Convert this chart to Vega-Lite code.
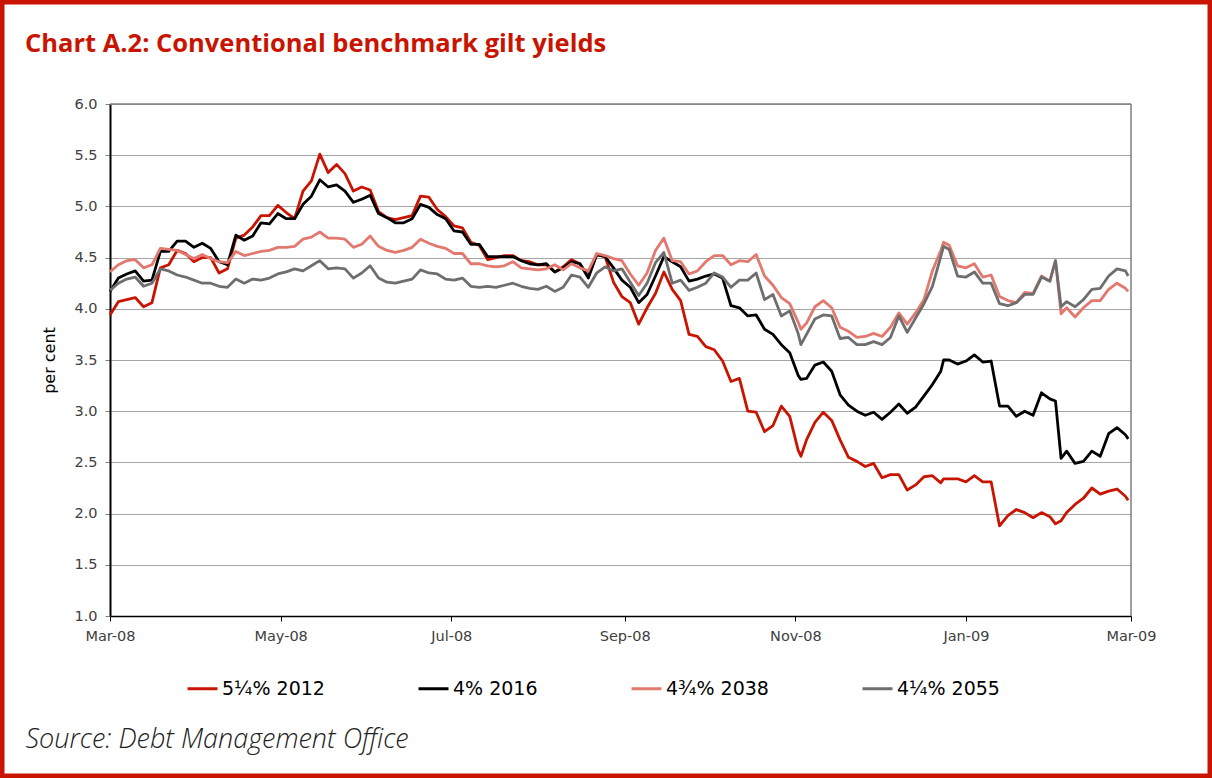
{
  "$schema": "https://vega.github.io/schema/vega-lite/v6.json",
  "width": 1212,
  "height": 778,
  "autosize": "none",
  "padding": 0,
  "background": "#ffffff",
  "title": {
    "text": "Chart A.2: Conventional benchmark gilt yields",
    "anchor": "start",
    "frame": "group",
    "orient": "top",
    "offset": 0,
    "dx": 25,
    "dy": 77,
    "baseline": "alphabetic",
    "font": "Open Sans",
    "fontSize": 25.5,
    "fontWeight": "bold",
    "color": "#C81400"
  },
  "layer": [
    {
      "data": {
        "values": [
          {"d": "2008-03-01", "d2": "2009-03-01", "yield": 6, "y2": 6},
          {"d": "2009-03-01", "d2": "2009-03-01", "yield": 1, "y2": 6}
        ]
      },
      "mark": {"type": "rule", "color": "#7F7F7F", "strokeWidth": 1.5},
      "encoding": {
        "x": {"field": "d", "type": "temporal"},
        "x2": {"field": "d2"},
        "y": {"field": "yield", "type": "quantitative"},
        "y2": {"field": "y2"}
      }
    },
    {
      "data": {
        "values": [
          {"d": "2008-03-01", "5¼% 2012": 3.94, "4% 2016": 4.17, "4¾% 2038": 4.36, "4¼% 2055": 4.18},
          {"d": "2008-03-04", "5¼% 2012": 4.07, "4% 2016": 4.30, "4¾% 2038": 4.43, "4¼% 2055": 4.25},
          {"d": "2008-03-07", "5¼% 2012": 4.09, "4% 2016": 4.34, "4¾% 2038": 4.47, "4¼% 2055": 4.29},
          {"d": "2008-03-10", "5¼% 2012": 4.11, "4% 2016": 4.37, "4¾% 2038": 4.48, "4¼% 2055": 4.31},
          {"d": "2008-03-13", "5¼% 2012": 4.02, "4% 2016": 4.27, "4¾% 2038": 4.40, "4¼% 2055": 4.22},
          {"d": "2008-03-16", "5¼% 2012": 4.06, "4% 2016": 4.28, "4¾% 2038": 4.43, "4¼% 2055": 4.25},
          {"d": "2008-03-19", "5¼% 2012": 4.40, "4% 2016": 4.56, "4¾% 2038": 4.59, "4¼% 2055": 4.39},
          {"d": "2008-03-22", "5¼% 2012": 4.43, "4% 2016": 4.56, "4¾% 2038": 4.58, "4¼% 2055": 4.37},
          {"d": "2008-03-25", "5¼% 2012": 4.57, "4% 2016": 4.66, "4¾% 2038": 4.57, "4¼% 2055": 4.33},
          {"d": "2008-03-28", "5¼% 2012": 4.54, "4% 2016": 4.66, "4¾% 2038": 4.53, "4¼% 2055": 4.31},
          {"d": "2008-03-31", "5¼% 2012": 4.46, "4% 2016": 4.60, "4¾% 2038": 4.49, "4¼% 2055": 4.28},
          {"d": "2008-04-03", "5¼% 2012": 4.50, "4% 2016": 4.64, "4¾% 2038": 4.53, "4¼% 2055": 4.25},
          {"d": "2008-04-06", "5¼% 2012": 4.50, "4% 2016": 4.59, "4¾% 2038": 4.49, "4¼% 2055": 4.25},
          {"d": "2008-04-09", "5¼% 2012": 4.35, "4% 2016": 4.46, "4¾% 2038": 4.46, "4¼% 2055": 4.22},
          {"d": "2008-04-12", "5¼% 2012": 4.39, "4% 2016": 4.43, "4¾% 2038": 4.45, "4¼% 2055": 4.21},
          {"d": "2008-04-15", "5¼% 2012": 4.69, "4% 2016": 4.72, "4¾% 2038": 4.56, "4¼% 2055": 4.29},
          {"d": "2008-04-18", "5¼% 2012": 4.72, "4% 2016": 4.67, "4¾% 2038": 4.52, "4¼% 2055": 4.25},
          {"d": "2008-04-21", "5¼% 2012": 4.80, "4% 2016": 4.71, "4¾% 2038": 4.54, "4¼% 2055": 4.29},
          {"d": "2008-04-24", "5¼% 2012": 4.91, "4% 2016": 4.84, "4¾% 2038": 4.56, "4¼% 2055": 4.28},
          {"d": "2008-04-27", "5¼% 2012": 4.91, "4% 2016": 4.83, "4¾% 2038": 4.57, "4¼% 2055": 4.30},
          {"d": "2008-04-30", "5¼% 2012": 5.01, "4% 2016": 4.93, "4¾% 2038": 4.60, "4¼% 2055": 4.34},
          {"d": "2008-05-03", "5¼% 2012": 4.94, "4% 2016": 4.88, "4¾% 2038": 4.60, "4¼% 2055": 4.36},
          {"d": "2008-05-06", "5¼% 2012": 4.88, "4% 2016": 4.88, "4¾% 2038": 4.61, "4¼% 2055": 4.39},
          {"d": "2008-05-09", "5¼% 2012": 5.15, "4% 2016": 5.02, "4¾% 2038": 4.68, "4¼% 2055": 4.37},
          {"d": "2008-05-12", "5¼% 2012": 5.25, "4% 2016": 5.10, "4¾% 2038": 4.70, "4¼% 2055": 4.42},
          {"d": "2008-05-15", "5¼% 2012": 5.51, "4% 2016": 5.26, "4¾% 2038": 4.75, "4¼% 2055": 4.47},
          {"d": "2008-05-18", "5¼% 2012": 5.33, "4% 2016": 5.19, "4¾% 2038": 4.69, "4¼% 2055": 4.39},
          {"d": "2008-05-21", "5¼% 2012": 5.41, "4% 2016": 5.21, "4¾% 2038": 4.69, "4¼% 2055": 4.40},
          {"d": "2008-05-24", "5¼% 2012": 5.32, "4% 2016": 5.15, "4¾% 2038": 4.68, "4¼% 2055": 4.39},
          {"d": "2008-05-27", "5¼% 2012": 5.15, "4% 2016": 5.04, "4¾% 2038": 4.60, "4¼% 2055": 4.30},
          {"d": "2008-05-30", "5¼% 2012": 5.19, "4% 2016": 5.07, "4¾% 2038": 4.63, "4¼% 2055": 4.35},
          {"d": "2008-06-02", "5¼% 2012": 5.16, "4% 2016": 5.11, "4¾% 2038": 4.71, "4¼% 2055": 4.42},
          {"d": "2008-06-05", "5¼% 2012": 4.95, "4% 2016": 4.93, "4¾% 2038": 4.61, "4¼% 2055": 4.30},
          {"d": "2008-06-08", "5¼% 2012": 4.89, "4% 2016": 4.89, "4¾% 2038": 4.57, "4¼% 2055": 4.26},
          {"d": "2008-06-11", "5¼% 2012": 4.87, "4% 2016": 4.84, "4¾% 2038": 4.55, "4¼% 2055": 4.25},
          {"d": "2008-06-14", "5¼% 2012": 4.89, "4% 2016": 4.84, "4¾% 2038": 4.57, "4¼% 2055": 4.27},
          {"d": "2008-06-17", "5¼% 2012": 4.91, "4% 2016": 4.88, "4¾% 2038": 4.60, "4¼% 2055": 4.29},
          {"d": "2008-06-20", "5¼% 2012": 5.10, "4% 2016": 5.02, "4¾% 2038": 4.68, "4¼% 2055": 4.38},
          {"d": "2008-06-23", "5¼% 2012": 5.09, "4% 2016": 4.99, "4¾% 2038": 4.64, "4¼% 2055": 4.35},
          {"d": "2008-06-26", "5¼% 2012": 4.97, "4% 2016": 4.92, "4¾% 2038": 4.61, "4¼% 2055": 4.34},
          {"d": "2008-06-29", "5¼% 2012": 4.90, "4% 2016": 4.88, "4¾% 2038": 4.59, "4¼% 2055": 4.29},
          {"d": "2008-07-02", "5¼% 2012": 4.81, "4% 2016": 4.76, "4¾% 2038": 4.54, "4¼% 2055": 4.28},
          {"d": "2008-07-05", "5¼% 2012": 4.79, "4% 2016": 4.75, "4¾% 2038": 4.54, "4¼% 2055": 4.30},
          {"d": "2008-07-08", "5¼% 2012": 4.65, "4% 2016": 4.63, "4¾% 2038": 4.44, "4¼% 2055": 4.22},
          {"d": "2008-07-11", "5¼% 2012": 4.62, "4% 2016": 4.63, "4¾% 2038": 4.44, "4¼% 2055": 4.21},
          {"d": "2008-07-14", "5¼% 2012": 4.48, "4% 2016": 4.51, "4¾% 2038": 4.42, "4¼% 2055": 4.22},
          {"d": "2008-07-17", "5¼% 2012": 4.50, "4% 2016": 4.51, "4¾% 2038": 4.41, "4¼% 2055": 4.21},
          {"d": "2008-07-20", "5¼% 2012": 4.52, "4% 2016": 4.51, "4¾% 2038": 4.42, "4¼% 2055": 4.23},
          {"d": "2008-07-23", "5¼% 2012": 4.52, "4% 2016": 4.51, "4¾% 2038": 4.46, "4¼% 2055": 4.25},
          {"d": "2008-07-26", "5¼% 2012": 4.47, "4% 2016": 4.47, "4¾% 2038": 4.40, "4¼% 2055": 4.22},
          {"d": "2008-07-29", "5¼% 2012": 4.46, "4% 2016": 4.44, "4¾% 2038": 4.39, "4¼% 2055": 4.20},
          {"d": "2008-08-01", "5¼% 2012": 4.43, "4% 2016": 4.43, "4¾% 2038": 4.38, "4¼% 2055": 4.19},
          {"d": "2008-08-04", "5¼% 2012": 4.43, "4% 2016": 4.44, "4¾% 2038": 4.39, "4¼% 2055": 4.22},
          {"d": "2008-08-07", "5¼% 2012": 4.36, "4% 2016": 4.36, "4¾% 2038": 4.43, "4¼% 2055": 4.17},
          {"d": "2008-08-10", "5¼% 2012": 4.41, "4% 2016": 4.40, "4¾% 2038": 4.38, "4¼% 2055": 4.21},
          {"d": "2008-08-13", "5¼% 2012": 4.48, "4% 2016": 4.46, "4¾% 2038": 4.44, "4¼% 2055": 4.33},
          {"d": "2008-08-16", "5¼% 2012": 4.44, "4% 2016": 4.44, "4¾% 2038": 4.40, "4¼% 2055": 4.31},
          {"d": "2008-08-19", "5¼% 2012": 4.32, "4% 2016": 4.30, "4¾% 2038": 4.37, "4¼% 2055": 4.21},
          {"d": "2008-08-22", "5¼% 2012": 4.53, "4% 2016": 4.53, "4¾% 2038": 4.54, "4¼% 2055": 4.35},
          {"d": "2008-08-25", "5¼% 2012": 4.51, "4% 2016": 4.51, "4¾% 2038": 4.52, "4¼% 2055": 4.41},
          {"d": "2008-08-28", "5¼% 2012": 4.26, "4% 2016": 4.40, "4¾% 2038": 4.49, "4¼% 2055": 4.37},
          {"d": "2008-08-31", "5¼% 2012": 4.12, "4% 2016": 4.28, "4¾% 2038": 4.47, "4¼% 2055": 4.39},
          {"d": "2008-09-03", "5¼% 2012": 4.06, "4% 2016": 4.21, "4¾% 2038": 4.34, "4¼% 2055": 4.26},
          {"d": "2008-09-06", "5¼% 2012": 3.85, "4% 2016": 4.06, "4¾% 2038": 4.23, "4¼% 2055": 4.13},
          {"d": "2008-09-09", "5¼% 2012": 4.01, "4% 2016": 4.14, "4¾% 2038": 4.35, "4¼% 2055": 4.25},
          {"d": "2008-09-12", "5¼% 2012": 4.15, "4% 2016": 4.32, "4¾% 2038": 4.57, "4¼% 2055": 4.45},
          {"d": "2008-09-15", "5¼% 2012": 4.36, "4% 2016": 4.51, "4¾% 2038": 4.69, "4¼% 2055": 4.55},
          {"d": "2008-09-18", "5¼% 2012": 4.19, "4% 2016": 4.46, "4¾% 2038": 4.47, "4¼% 2055": 4.25},
          {"d": "2008-09-21", "5¼% 2012": 4.08, "4% 2016": 4.41, "4¾% 2038": 4.46, "4¼% 2055": 4.28},
          {"d": "2008-09-24", "5¼% 2012": 3.75, "4% 2016": 4.27, "4¾% 2038": 4.34, "4¼% 2055": 4.18},
          {"d": "2008-09-27", "5¼% 2012": 3.73, "4% 2016": 4.29, "4¾% 2038": 4.37, "4¼% 2055": 4.21},
          {"d": "2008-09-30", "5¼% 2012": 3.63, "4% 2016": 4.32, "4¾% 2038": 4.46, "4¼% 2055": 4.25},
          {"d": "2008-10-03", "5¼% 2012": 3.60, "4% 2016": 4.34, "4¾% 2038": 4.52, "4¼% 2055": 4.35},
          {"d": "2008-10-06", "5¼% 2012": 3.49, "4% 2016": 4.30, "4¾% 2038": 4.52, "4¼% 2055": 4.31},
          {"d": "2008-10-09", "5¼% 2012": 3.29, "4% 2016": 4.03, "4¾% 2038": 4.43, "4¼% 2055": 4.21},
          {"d": "2008-10-12", "5¼% 2012": 3.32, "4% 2016": 4.01, "4¾% 2038": 4.47, "4¼% 2055": 4.28},
          {"d": "2008-10-15", "5¼% 2012": 3.00, "4% 2016": 3.93, "4¾% 2038": 4.46, "4¼% 2055": 4.28},
          {"d": "2008-10-18", "5¼% 2012": 2.99, "4% 2016": 3.94, "4¾% 2038": 4.53, "4¼% 2055": 4.35},
          {"d": "2008-10-21", "5¼% 2012": 2.80, "4% 2016": 3.80, "4¾% 2038": 4.32, "4¼% 2055": 4.09},
          {"d": "2008-10-24", "5¼% 2012": 2.86, "4% 2016": 3.75, "4¾% 2038": 4.23, "4¼% 2055": 4.14},
          {"d": "2008-10-27", "5¼% 2012": 3.05, "4% 2016": 3.65, "4¾% 2038": 4.11, "4¼% 2055": 3.93},
          {"d": "2008-10-30", "5¼% 2012": 2.95, "4% 2016": 3.57, "4¾% 2038": 4.05, "4¼% 2055": 3.98},
          {"d": "2008-11-02", "5¼% 2012": 2.62, "4% 2016": 3.35, "4¾% 2038": 3.87, "4¼% 2055": 3.76},
          {"d": "2008-11-03", "5¼% 2012": 2.56, "4% 2016": 3.31, "4¾% 2038": 3.80, "4¼% 2055": 3.65},
          {"d": "2008-11-05", "5¼% 2012": 2.72, "4% 2016": 3.32, "4¾% 2038": 3.86, "4¼% 2055": 3.75},
          {"d": "2008-11-08", "5¼% 2012": 2.89, "4% 2016": 3.45, "4¾% 2038": 4.02, "4¼% 2055": 3.90},
          {"d": "2008-11-11", "5¼% 2012": 2.99, "4% 2016": 3.48, "4¾% 2038": 4.08, "4¼% 2055": 3.94},
          {"d": "2008-11-14", "5¼% 2012": 2.91, "4% 2016": 3.39, "4¾% 2038": 4.01, "4¼% 2055": 3.93},
          {"d": "2008-11-17", "5¼% 2012": 2.72, "4% 2016": 3.16, "4¾% 2038": 3.82, "4¼% 2055": 3.71},
          {"d": "2008-11-20", "5¼% 2012": 2.55, "4% 2016": 3.06, "4¾% 2038": 3.78, "4¼% 2055": 3.72},
          {"d": "2008-11-23", "5¼% 2012": 2.51, "4% 2016": 3.00, "4¾% 2038": 3.72, "4¼% 2055": 3.65},
          {"d": "2008-11-26", "5¼% 2012": 2.46, "4% 2016": 2.96, "4¾% 2038": 3.73, "4¼% 2055": 3.65},
          {"d": "2008-11-29", "5¼% 2012": 2.49, "4% 2016": 2.99, "4¾% 2038": 3.76, "4¼% 2055": 3.68},
          {"d": "2008-12-02", "5¼% 2012": 2.35, "4% 2016": 2.92, "4¾% 2038": 3.73, "4¼% 2055": 3.65},
          {"d": "2008-12-05", "5¼% 2012": 2.38, "4% 2016": 2.99, "4¾% 2038": 3.82, "4¼% 2055": 3.72},
          {"d": "2008-12-08", "5¼% 2012": 2.38, "4% 2016": 3.07, "4¾% 2038": 3.96, "4¼% 2055": 3.93},
          {"d": "2008-12-11", "5¼% 2012": 2.23, "4% 2016": 2.98, "4¾% 2038": 3.85, "4¼% 2055": 3.77},
          {"d": "2008-12-14", "5¼% 2012": 2.28, "4% 2016": 3.04, "4¾% 2038": 3.96, "4¼% 2055": 3.91},
          {"d": "2008-12-17", "5¼% 2012": 2.36, "4% 2016": 3.15, "4¾% 2038": 4.09, "4¼% 2055": 4.05},
          {"d": "2008-12-20", "5¼% 2012": 2.37, "4% 2016": 3.26, "4¾% 2038": 4.37, "4¼% 2055": 4.22},
          {"d": "2008-12-23", "5¼% 2012": 2.30, "4% 2016": 3.39, "4¾% 2038": 4.57, "4¼% 2055": 4.51},
          {"d": "2008-12-24", "5¼% 2012": 2.34, "4% 2016": 3.50, "4¾% 2038": 4.65, "4¼% 2055": 4.61},
          {"d": "2008-12-26", "5¼% 2012": 2.34, "4% 2016": 3.50, "4¾% 2038": 4.62, "4¼% 2055": 4.58},
          {"d": "2008-12-29", "5¼% 2012": 2.34, "4% 2016": 3.46, "4¾% 2038": 4.42, "4¼% 2055": 4.32},
          {"d": "2009-01-01", "5¼% 2012": 2.31, "4% 2016": 3.49, "4¾% 2038": 4.40, "4¼% 2055": 4.31},
          {"d": "2009-01-04", "5¼% 2012": 2.37, "4% 2016": 3.55, "4¾% 2038": 4.44, "4¼% 2055": 4.36},
          {"d": "2009-01-07", "5¼% 2012": 2.31, "4% 2016": 3.48, "4¾% 2038": 4.31, "4¼% 2055": 4.25},
          {"d": "2009-01-10", "5¼% 2012": 2.31, "4% 2016": 3.49, "4¾% 2038": 4.33, "4¼% 2055": 4.25},
          {"d": "2009-01-13", "5¼% 2012": 1.88, "4% 2016": 3.05, "4¾% 2038": 4.12, "4¼% 2055": 4.05},
          {"d": "2009-01-16", "5¼% 2012": 1.98, "4% 2016": 3.05, "4¾% 2038": 4.08, "4¼% 2055": 4.03},
          {"d": "2009-01-19", "5¼% 2012": 2.04, "4% 2016": 2.95, "4¾% 2038": 4.06, "4¼% 2055": 4.06},
          {"d": "2009-01-22", "5¼% 2012": 2.01, "4% 2016": 3.00, "4¾% 2038": 4.16, "4¼% 2055": 4.14},
          {"d": "2009-01-25", "5¼% 2012": 1.96, "4% 2016": 2.96, "4¾% 2038": 4.15, "4¼% 2055": 4.14},
          {"d": "2009-01-28", "5¼% 2012": 2.01, "4% 2016": 3.18, "4¾% 2038": 4.32, "4¼% 2055": 4.31},
          {"d": "2009-01-31", "5¼% 2012": 1.97, "4% 2016": 3.12, "4¾% 2038": 4.27, "4¼% 2055": 4.27},
          {"d": "2009-02-02", "5¼% 2012": 1.90, "4% 2016": 3.10, "4¾% 2038": 4.47, "4¼% 2055": 4.47},
          {"d": "2009-02-04", "5¼% 2012": 1.93, "4% 2016": 2.54, "4¾% 2038": 3.95, "4¼% 2055": 4.02},
          {"d": "2009-02-06", "5¼% 2012": 2.01, "4% 2016": 2.61, "4¾% 2038": 4.01, "4¼% 2055": 4.07},
          {"d": "2009-02-09", "5¼% 2012": 2.09, "4% 2016": 2.49, "4¾% 2038": 3.92, "4¼% 2055": 4.02},
          {"d": "2009-02-12", "5¼% 2012": 2.15, "4% 2016": 2.51, "4¾% 2038": 4.01, "4¼% 2055": 4.09},
          {"d": "2009-02-15", "5¼% 2012": 2.25, "4% 2016": 2.61, "4¾% 2038": 4.08, "4¼% 2055": 4.19},
          {"d": "2009-02-18", "5¼% 2012": 2.19, "4% 2016": 2.56, "4¾% 2038": 4.08, "4¼% 2055": 4.20},
          {"d": "2009-02-21", "5¼% 2012": 2.22, "4% 2016": 2.78, "4¾% 2038": 4.19, "4¼% 2055": 4.32},
          {"d": "2009-02-24", "5¼% 2012": 2.24, "4% 2016": 2.84, "4¾% 2038": 4.25, "4¼% 2055": 4.39},
          {"d": "2009-02-27", "5¼% 2012": 2.17, "4% 2016": 2.77, "4¾% 2038": 4.20, "4¼% 2055": 4.37},
          {"d": "2009-02-28", "5¼% 2012": 2.13, "4% 2016": 2.73, "4¾% 2038": 4.17, "4¼% 2055": 4.32}
        ]
      },
      "transform": [
        {"fold": ["5¼% 2012", "4% 2016", "4¾% 2038", "4¼% 2055"], "as": ["series", "yield"]}
      ],
      "mark": {"type": "line", "strokeWidth": 2.8, "strokeJoin": "round"},
      "encoding": {
        "x": {
          "field": "d",
          "type": "temporal",
          "scale": {
            "type": "utc",
            "domain": [
              {"year": 2008, "month": 3, "date": 1, "utc": true},
              {"year": 2009, "month": 3, "date": 1, "utc": true}
            ],
            "range": [110, 1131]
          },
          "axis": {
            "orient": "bottom",
            "offset": -162,
            "tickCount": {"interval": "month", "step": 2},
            "format": "%b-%y",
            "grid": false,
            "labelFlush": false,
            "domainColor": "#000000",
            "domainWidth": 1.5,
            "tickColor": "#000000",
            "tickSize": 5,
            "tickWidth": 1,
            "labelPadding": 8,
            "labelFont": "DejaVu Sans",
            "labelFontSize": 14.5,
            "labelColor": "#404040",
            "title": "Source: Debt Management Office",
            "titleX": 25,
            "titleY": 131,
            "titleAlign": "left",
            "titleAnchor": "start",
            "titleBaseline": "alphabetic",
            "titleAngle": 0,
            "titleFont": "Open Sans",
            "titleFontSize": 27,
            "titleFontStyle": "italic",
            "titleFontWeight": 300,
            "titleColor": "#222222"
          }
        },
        "y": {
          "field": "yield",
          "type": "quantitative",
          "scale": {"domain": [1, 6], "range": [616, 104], "nice": false, "zero": false},
          "axis": {
            "orient": "left",
            "offset": -110,
            "values": [1, 1.5, 2, 2.5, 3, 3.5, 4, 4.5, 5, 5.5, 6],
            "format": ".1f",
            "grid": true,
            "gridColor": "#A6A6A6",
            "gridWidth": 1,
            "domainColor": "#000000",
            "domainWidth": 2,
            "tickColor": "#808080",
            "tickSize": 5,
            "tickWidth": 1,
            "labelPadding": 8,
            "labelFont": "DejaVu Sans",
            "labelFontSize": 14.5,
            "labelColor": "#404040",
            "title": "per cent",
            "titleFont": "DejaVu Sans",
            "titleFontSize": 16,
            "titleFontWeight": "normal",
            "titleColor": "#000000",
            "titleBaseline": "alphabetic",
            "titlePadding": 19
          }
        },
        "color": {
          "field": "series",
          "type": "nominal",
          "scale": {
            "domain": ["5¼% 2012", "4% 2016", "4¾% 2038", "4¼% 2055"],
            "range": ["#C81400", "#000000", "#E2786E", "#6E6E6E"]
          },
          "legend": {
            "orient": "none",
            "legendX": 186,
            "legendY": 672,
            "direction": "horizontal",
            "title": null,
            "symbolType": "stroke",
            "symbolSize": 900,
            "symbolStrokeWidth": 3,
            "labelFont": "DejaVu Sans",
            "labelFontSize": 19,
            "labelColor": "#000000",
            "labelOffset": 3,
            "columnPadding": 87
          }
        }
      }
    }
  ],
  "config": {
    "view": {"stroke": "#C81400", "strokeWidth": 9}
  }
}
